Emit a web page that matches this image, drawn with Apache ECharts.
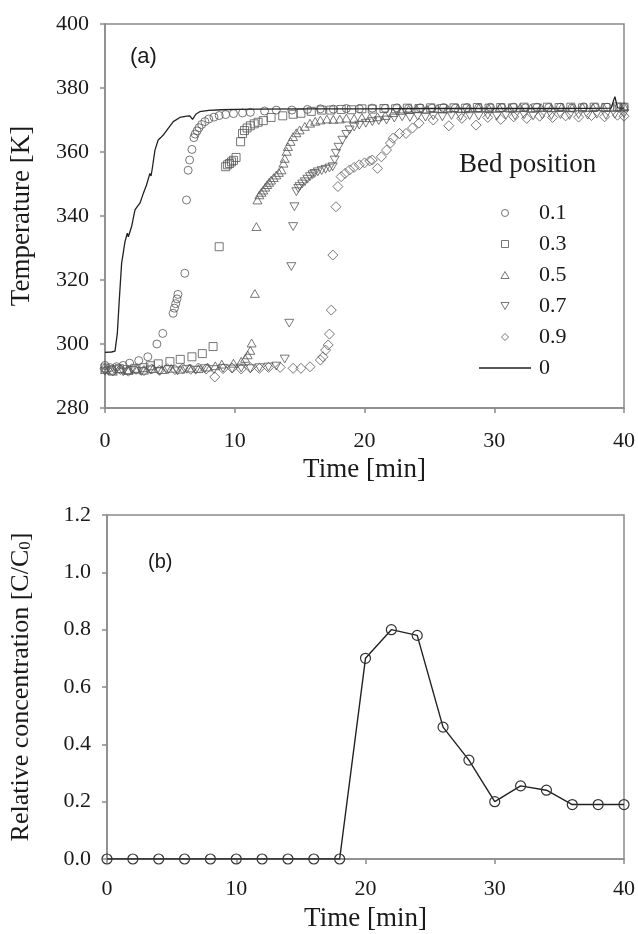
<!DOCTYPE html>
<html>
<head>
<meta charset="utf-8">
<script src="https://cdn.jsdelivr.net/npm/echarts@6/dist/echarts.min.js"></script>
<style>
html,body{margin:0;padding:0;background:#fff;}
#chart{width:638px;height:934px;}
</style>
</head>
<body>
<div id="chart"></div>
<script>
// ---- Panel (a): temperature vs time, [time (min), temperature (K)] ----
const pos01 = [[0,293.3],[0.4,292.6],[0.9,292.9],[1.4,293.3],[1.9,294],[2.6,294.8],[3.3,296],[4.0,300],[4.45,303.3],[5.25,309.6],[5.35,311.2],[5.45,312.6],[5.55,314.1],[5.62,315.5],[6.15,322.1],[6.28,345],[6.41,354.3],[6.52,357.5],[6.7,360.8],[6.85,364.5],[6.95,365.6],[7.1,366.6],[7.25,367.6],[7.45,368.6],[7.7,369.5],[8.0,370.3],[8.4,370.9],[8.8,371.4],[9.3,371.7],[9.9,372],[10.6,372.2],[11.2,372.4],[12.3,372.8],[13.2,373.1],[14.4,373.1],[15.6,373.3],[16.6,373.5],[17.6,373.4],[18.6,373.6],[19.6,373.5],[20.6,373.7],[21.6,373.6],[22.5,373.8],[23.4,373.6],[24.3,373.8],[25.2,373.7],[26.1,373.9],[27.0,373.7],[27.9,373.9],[28.8,373.8],[29.7,374],[30.6,373.8],[31.5,374],[32.4,373.8],[33.3,374],[34.2,373.9],[35.1,374],[36,373.8],[36.9,374.1],[37.8,373.9],[38.7,374],[39.6,373.9],[40,374]];
const pos03 = [[0,292.5],[0.5,291.8],[1.1,292.3],[1.7,292],[2.3,292.4],[3.0,292.6],[3.5,293.2],[4.1,293.8],[5.0,294.5],[5.8,295.2],[6.7,296],[7.5,297],[8.33,299.2],[8.8,330.4],[9.3,355.4],[9.45,356],[9.6,356.4],[9.75,356.9],[9.9,357.4],[10.1,358.3],[10.45,363.2],[10.6,365.8],[10.75,366.7],[10.95,367.5],[11.2,368.2],[11.5,368.8],[11.8,369.3],[12.2,369.8],[12.8,370.8],[13.7,371.3],[14.5,371.8],[15.1,372.1],[15.9,372.7],[16.7,373.1],[17.4,373.1],[18.2,373.3],[19.0,373.2],[19.8,373.5],[20.6,373.4],[21.5,373.6],[22.4,373.5],[23.3,373.7],[24.2,373.6],[25.1,373.8],[26,373.6],[26.9,373.8],[27.8,373.7],[28.7,373.9],[29.6,373.7],[30.5,373.9],[31.4,373.8],[32.3,374],[33.2,373.8],[34.1,374],[35,373.9],[35.9,374],[36.8,373.8],[37.7,374],[38.6,373.9],[39.5,374.1],[40,374]];
const pos05 = [[0,292],[0.6,291.5],[1.2,292.2],[1.8,291.7],[2.4,292.1],[3.0,291.8],[3.7,292.3],[4.4,292],[5.1,292.4],[5.8,292.1],[6.5,292.5],[7.2,292.3],[7.9,292.8],[8.5,293.2],[9.0,293.7],[9.9,294],[10.5,294.6],[10.8,295.5],[11.0,296.6],[11.2,298],[11.3,300.3],[11.55,315.8],[11.67,336.7],[11.75,345],[11.9,346.6],[12.05,347.4],[12.2,348.1],[12.35,349],[12.5,349.8],[12.65,350.5],[12.8,351.2],[13.0,352],[13.2,352.8],[13.4,353.6],[13.6,354.4],[13.75,356.5],[13.85,358],[14.0,360.2],[14.1,361.7],[14.3,363.3],[14.5,364.8],[14.75,366],[15.0,366.9],[15.4,368],[15.8,369],[16.2,369.6],[16.6,370],[17.1,370.3],[17.6,370.2],[18.1,370.3],[18.6,370.6],[19.2,370.5],[19.8,370.8],[20.4,370.7],[21.0,371],[21.6,371.4],[22.2,372.3],[22.8,373],[23.4,373.3],[24.0,373.5],[24.8,373.4],[25.6,373.6],[26.4,373.5],[27.2,373.7],[28,373.5],[28.8,373.8],[29.6,373.6],[30.4,373.8],[31.2,373.7],[32,373.9],[32.8,373.7],[33.6,373.9],[34.4,373.8],[35.2,374],[36,373.8],[36.8,374],[37.6,373.9],[38.4,374.1],[39.2,373.9],[40,374.2]];
const pos07 = [[0,291.5],[0.7,292],[1.4,291.3],[2.1,291.8],[2.8,291.4],[3.5,291.9],[4.2,291.5],[4.9,292],[5.6,291.6],[6.3,292.1],[7.0,291.8],[7.7,292.3],[8.4,292],[9.1,292.4],[9.8,292.2],[10.5,292.5],[11.2,292.3],[11.9,292.6],[12.6,292.8],[13.2,293.1],[13.85,295.3],[14.2,306.5],[14.36,324.2],[14.5,336.7],[14.6,342.9],[14.75,347.6],[14.9,348.6],[15.0,349.2],[15.2,350],[15.4,350.7],[15.6,351.5],[15.8,352.3],[16.0,352.9],[16.15,353.3],[16.4,353.8],[16.7,354.2],[17.0,354.6],[17.3,355],[17.55,355.4],[17.7,357.5],[17.8,359.6],[18.0,361.5],[18.3,363.7],[18.6,365.5],[18.85,366.9],[19.2,367.8],[19.6,368.4],[20.1,369],[20.6,369.5],[21.1,369.8],[21.7,370],[22.3,370.6],[22.9,371],[23.5,370.8],[24.1,371.2],[24.7,370.9],[25.3,371.3],[26.0,371],[26.7,371.4],[27.4,371.1],[28.1,371.4],[28.8,371.2],[29.5,371.5],[30.2,371.2],[30.9,371.5],[31.6,371.3],[32.3,371.6],[33,371.3],[33.7,371.6],[34.4,371.4],[35.1,371.7],[35.8,371.4],[36.5,371.7],[37.2,371.5],[37.9,371.8],[38.6,371.5],[39.3,371.8],[40,372]];
const pos09 = [[0,292.3],[0.6,291.6],[1.2,292],[1.8,291.5],[2.4,292.1],[3.0,291.7],[3.6,292.2],[4.2,291.8],[4.8,292.3],[5.4,292],[6.0,292.4],[6.6,292.1],[7.2,292.5],[7.8,292.2],[8.46,289.7],[9.1,292.3],[9.8,292.5],[10.5,292.2],[11.2,292.6],[11.9,292.4],[12.6,292.7],[13.5,292.7],[14.5,292.4],[15.1,292.4],[15.8,292.9],[16.6,295],[16.8,296],[17.0,298.1],[17.2,299.7],[17.3,303.1],[17.44,310.6],[17.56,327.8],[17.8,342.9],[17.95,349.2],[18.2,352.3],[18.5,353.3],[18.85,354.4],[19.2,355.2],[19.6,356],[20.0,356.6],[20.4,357.2],[20.6,357.5],[21.0,354.9],[21.3,358.5],[21.7,360.6],[22.0,362.8],[22.2,364.3],[22.7,365.8],[23.2,365.8],[23.7,367.5],[24.2,369],[25.3,370],[26.5,368.2],[27.5,370.5],[28.6,368.4],[29.5,370.8],[30.5,370.2],[31.5,371],[32.5,370.5],[33.5,371.2],[34.5,370.8],[35.5,371.3],[36.5,370.9],[37.5,371.4],[38.5,371],[39.5,371.5],[40,371.2]];
const pos00 = [[0,297.4],[0.5,297.5],[0.77,297.8],[0.95,303.3],[1.1,313.7],[1.28,325.2],[1.54,332],[1.72,334.6],[1.8,333.5],[2.05,336.7],[2.31,341.9],[2.5,343],[2.69,344],[2.95,347],[3.2,349.7],[3.46,353.3],[3.55,352.5],[3.65,355],[3.85,360.6],[4.1,363.75],[4.3,364.5],[4.49,365.3],[4.87,367.4],[5.26,369.5],[5.77,370.8],[6.3,371.2],[6.54,371.3],[6.75,370.2],[7.0,371.8],[7.3,372.6],[8,373],[9,373.2],[10,373.3],[12,373.4],[15,373.5],[20,373.5],[25,373.6],[30,373.6],[35,373.6],[39,373.7],[39.3,377.3],[39.5,373.8],[40,373.7]];
const bedNames = ['0.1','0.3','0.5','0.7','0.9','0'];
const xTicksA = [0,10,20,30,40];
const yTicksA = [280,400,20];

// ---- Panel (b): relative concentration vs time ----
const timeB = [0,2,4,6,8,10,12,14,16,18,20,22,24,26,28,30,32,34,36,38,40];
const concB = [0,0,0,0,0,0,0,0,0,0,0.70,0.80,0.78,0.46,0.345,0.20,0.255,0.24,0.19,0.19,0.19];

const SERIF = '"Liberation Serif","Times New Roman",serif';
const SANS = '"Liberation Sans",Arial,sans-serif';
const AX = '#8a8a8a';
const MK = '#555';
const TXT = '#1a1a1a';

const symCircle = 'circle';
const symRect = 'path://M0,0L10,0L10,10L0,10Z';
const symTriUp = 'path://M5,0L10,8.66L0,8.66Z';
const symTriDown = 'path://M0,0L10,0L5,8.66Z';
const symDiamond = 'path://M5,0L10,5L5,10L0,5Z';
const symbols = [symCircle,symRect,symTriUp,symTriDown,symDiamond];
const sizes = [8,8,9,9,10];
const dataSets = [pos01,pos03,pos05,pos07,pos09];

function axisCommon(){
  return {
    axisLine:{show:true,lineStyle:{color:AX,width:1.5}},
    axisTick:{show:true,inside:false,length:5,lineStyle:{color:AX,width:1.5}},
    splitLine:{show:false},
    axisLabel:{fontFamily:SERIF,fontSize:22,color:TXT},
    nameTextStyle:{fontFamily:SERIF,fontSize:27,color:TXT}
  };
}

const series = [];
for(let i=0;i<5;i++){
  series.push({
    name: bedNames[i], type:'scatter', xAxisIndex:0, yAxisIndex:0,
    symbol: symbols[i], symbolSize: sizes[i], symbolKeepAspect:true,
    itemStyle:{color:'rgba(0,0,0,0)', borderColor:MK, borderWidth:1},
    emphasis:{disabled:true},
    data: dataSets[i]
  });
}
series.push({
  name: bedNames[5], type:'line', xAxisIndex:0, yAxisIndex:0,
  showSymbol:false, symbol:'none', smooth:false,
  lineStyle:{color:'#222', width:1.3},
  itemStyle:{color:'#222'},
  z:3,
  data: pos00
});
series.push({
  name:'C/C0', type:'line', xAxisIndex:1, yAxisIndex:1,
  symbol:'circle', symbolSize:10, showSymbol:true,
  lineStyle:{color:'#222', width:1.4},
  itemStyle:{color:'rgba(0,0,0,0)', borderColor:'#333', borderWidth:1.2},
  data: timeB.map((t,i)=>[t, concB[i]])
});

const xA = Object.assign(axisCommon(), {
  type:'value', gridIndex:0, min:xTicksA[0], max:xTicksA[xTicksA.length-1], interval:10,
  name:'Time [min]', nameLocation:'middle', nameGap:48
});
xA.axisLabel = Object.assign({}, xA.axisLabel, {margin:22});
const yA = Object.assign(axisCommon(), {
  type:'value', gridIndex:0, min:yTicksA[0], max:yTicksA[1], interval:yTicksA[2],
  name:'Temperature [K]', nameLocation:'middle', nameGap:70
});
yA.axisLabel = Object.assign({}, yA.axisLabel, {margin:16});
const xB = Object.assign(axisCommon(), {
  type:'value', gridIndex:1, min:0, max:40, interval:10,
  name:'Time [min]', nameLocation:'middle', nameGap:46
});
xB.axisLabel = Object.assign({}, xB.axisLabel, {margin:19});
const yB = Object.assign(axisCommon(), {
  type:'value', gridIndex:1, min:0, max:1.2, interval:0.2,
  name:'Relative concentration [C/C{sub|0}]', nameLocation:'middle', nameGap:73
});
yB.axisLabel = Object.assign({}, yB.axisLabel, {margin:16, formatter:v=>v.toFixed(1)});
yB.nameTextStyle = {fontFamily:SERIF,fontSize:26,color:TXT,
  rich:{sub:{fontFamily:SERIF,fontSize:17,color:TXT,verticalAlign:'bottom',padding:[8,0,0,0]}}};

const legendData = bedNames.map((n,i)=> i<5 ? {name:n} :
  {name:n, icon:'path://M0,0L52,0L52,1.4L0,1.4Z', itemStyle:{color:'#222', borderWidth:0}});

const option = {
  backgroundColor:'#fff',
  animation:false,
  title:[
    {text:'(a)', left:125, top:41, textStyle:{fontFamily:SANS,fontSize:22,fontWeight:'normal',color:TXT}},
    {text:'(b)', left:143, top:547, textStyle:{fontFamily:SANS,fontSize:20,fontWeight:'normal',color:TXT}},
    {text:'Bed position', left:454, top:146, textStyle:{fontFamily:SERIF,fontSize:27,fontWeight:'normal',color:TXT}}
  ],
  legend:{
    orient:'vertical', left:474, top:197, itemWidth:52, itemHeight:7, itemGap:9,
    data: legendData,
    symbolKeepAspect:true,
    itemStyle:{borderWidth:1},
    textStyle:{fontFamily:SERIF,fontSize:22,color:TXT,padding:[0,0,0,3]},
    selectedMode:false
  },
  grid:[
    {left:105, right:13, top:24, height:384, show:true, borderColor:AX, borderWidth:1.5, backgroundColor:'rgba(0,0,0,0)'},
    {left:107, right:13, top:515, height:344, show:true, borderColor:AX, borderWidth:1.5, backgroundColor:'rgba(0,0,0,0)'}
  ],
  xAxis:[xA, xB],
  yAxis:[yA, yB],
  series: series
};

const chart = echarts.init(document.getElementById('chart'), null, {renderer:'canvas'});
chart.setOption(option);
</script>
</body>
</html>
